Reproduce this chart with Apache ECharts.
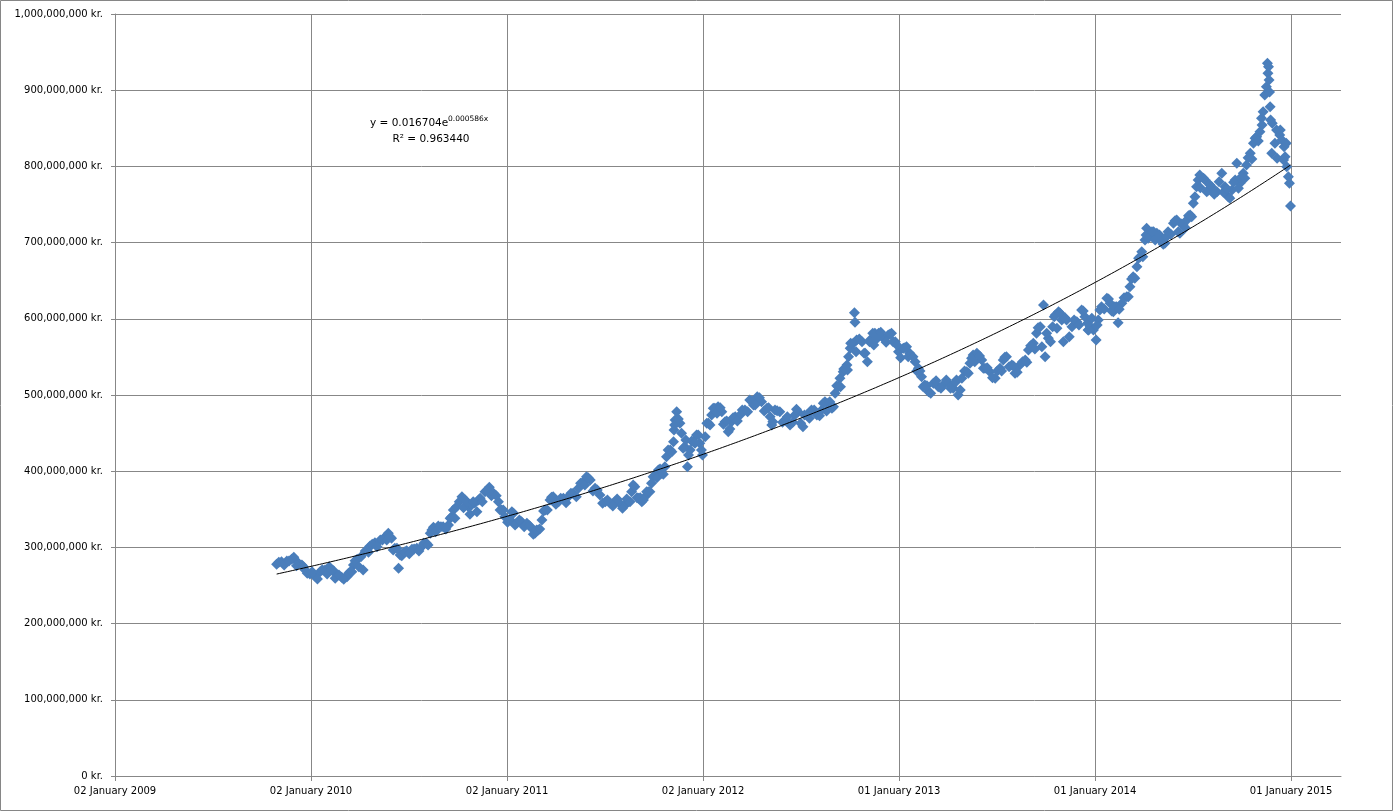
<!DOCTYPE html>
<html><head><meta charset="utf-8">
<script src="https://cdn.jsdelivr.net/npm/echarts@6/dist/echarts.min.js"></script>
<style>html,body{margin:0;padding:0;background:#fff}#c{width:1393px;height:811px}</style>
</head><body><div id="c"></div>
<script>
// Excel date serials (days since 1899-12-30) - first reading pass (band centre)
const dates = [
40116,40125,40135,40144,40148,40156,40163,40169,40178,40187,40197,40206,40214,40222,40228,40237,40247,40253,40259,40266,40273,40277,40284,40290,40299,40309,40318,40324,40330,40336,40343,40346,40352,40358,40368,40377,40386,40395,40402,40408,40417,40426,40436,40442,40445,40451,40461,40467,40473,40479,40485,40492,
40495,40504,40512,40520,40529,40535,40541,40551,40557,40563,40572,40582,40591,40597,40603,40610,40616,40625,40631,40641,40650,40659,40668,40678,40687,40693,40700,40709,40718,40728,40737,40746,40755,40765,40771,40777,40783,40790,40796,40802,40808,40814,40821,40827,40833,40839,40842,40849,40855,40856,40858,40861,
40867,40870,40876,40881,40886,40892,40898,40904,40909,40914,40920,40926,40932,40938,40945,40951,40957,40963,40970,40979,40988,40997,41004,41011,41019,41029,41035,41038,41044,41053,41063,41072,41081,41087,41096,41103,41112,41122,41131,41137,41143,41150,41156,41162,41165,41171,41178,41181,41184,41190,41192,41193,41196,41206,41212,41216,41221,41230,41236,
41246,41255,41261,41268,41274,41283,41289,41295,41305,41311,41317,41323,41330,41339,41348,41357,41367,41376,41382,41385,41392,41401,41407,41413,41420,41429,41435,41444,41454,41463,41469,41475,41485,41491,41500,41510,41516,41525,41531,41538,41541,41544,41547,41553,41561,41566,41572,41578,41581,41587,41597,41606,41615,41621,41627,
41631,41637,41642,41646,41652,41662,41668,41674,41680,41683,41690,41699,41705,41711,41718,41724,41727,41733,41736,41742,41749,41755,41764,41770,41776,41786,41792,41798,41804,41811,41817,41823,41826,41832,41835,41845,41851,41857,41867,41876,41882,41888,41895,41901,41904,41910,41916,41922,41929,41935,41941,41947,41950,41953,41956,41959,41961,41962,41963,41964,41965,41966,41967,41969,41970,41975,41978,41984,41988,41992,41994,41997,42000,42002,42004
];
// values in millions of kr. - first reading pass
const values = [
277.8,281.2,282.1,284.4,287.0,279.9,276.9,270.3,265.1,262.5,268.1,270.3,274.7,269.4,263.8,260.8,261.5,268.1,276.9,284.4,287.8,270.3,296.6,301.8,306.2,309.7,314.0,318.5,311.9,298.8,272.6,290.0,293.0,295.7,297.5,298.8,300.9,305.4,318.5,326.4,328.1,327.2,329.4,340.3,349.1,353.4,366.5,362.2,353.4,355.6,358.3,362.2,
364.4,373.1,378.9,371.0,360.0,349.1,340.3,335.9,344.7,331.6,333.7,331.6,325.1,318.5,322.8,335.9,349.1,362.2,366.5,360.0,364.4,366.5,371.0,377.5,386.2,392.8,388.4,377.5,368.8,360.0,357.9,360.0,357.9,355.6,360.0,373.1,379.7,364.4,360.0,366.5,373.1,384.1,395.0,401.6,397.2,405.9,419.0,427.8,438.7,454.1,467.2,478.1,
462.8,449.7,432.1,405.9,427.8,438.7,447.5,436.6,421.2,445.3,462.8,473.7,482.5,484.6,478.1,464.9,451.8,464.9,471.5,473.7,480.3,493.4,486.9,497.8,491.2,482.5,471.5,460.6,480.3,478.1,467.2,460.6,473.7,478.1,458.4,473.7,480.3,473.7,480.3,491.2,489.1,482.5,502.2,510.9,521.9,530.6,539.4,550.2,561.3,567.8,608.0,595.4,572.2,569.9,554.7,543.7,572.2,580.9,576.5,
574.4,578.7,580.9,569.9,556.8,561.3,563.4,554.7,543.7,535.0,524.0,513.1,504.3,515.3,510.9,513.1,515.3,508.8,519.7,500.0,521.9,530.6,541.6,552.5,554.7,545.9,535.0,530.6,521.9,535.0,545.9,550.2,539.4,528.5,539.4,545.9,559.0,567.8,580.9,589.6,563.4,618.1,550.2,574.4,589.6,605.0,609.3,598.4,569.9,598.4,589.6,596.2,611.5,602.7,585.3,
589.6,585.3,572.2,598.4,615.9,626.9,620.3,609.3,615.9,594.9,620.3,629.0,642.1,655.2,668.4,681.5,688.0,703.4,718.7,710.0,714.3,712.2,701.2,699.1,714.3,725.3,729.6,712.2,723.1,729.6,736.2,751.6,760.2,782.1,788.7,782.1,769.0,773.3,766.8,790.9,773.3,760.2,769.0,782.1,804.0,777.8,790.9,801.8,817.2,830.3,839.0,845.5,863.1,871.8,893.7,904.6,935.3,922.2,930.8,913.4,897.6,878.3,860.9,817.2,856.5,830.3,847.7,841.2,834.6,825.8,812.7,799.6,786.5,777.8,748.0
];
// second reading pass (upper and lower edges of the dense band)
const dates2 = [
40120,40130,40139,40153,40166,40173,40182,40192,40201,40210,40218,40225,40232,40241,40250,40256,40262,40269,40281,40287,40294,40303,40313,40321,40327,40333,40340,40349,40355,40363,40372,40381,40390,40398,40405,40412,40422,40431,40439,40448,40456,40464,40470,40476,40482,40489,
40499,40508,40516,40525,40532,40538,40546,40554,40560,40568,40577,40587,40594,40600,40606,40613,40620,40628,40636,40645,40655,40664,40674,40682,40690,40696,40705,40713,40723,40732,40742,40750,40760,40768,40774,40780,40787,40793,40799,40805,40811,40817,40824,40830,40836,40845,40852,40857,
40864,40873,40878,40883,40889,40895,40901,40907,40917,40923,40929,40936,40942,40948,40954,40960,40966,40974,40983,40993,41001,41007,41015,41024,41032,41040,41048,41058,41067,41077,41084,41092,41099,41108,41117,41127,41134,41140,41146,41153,41159,41166,41172,41179,41185,41195,41201,41210,41220,41228,41237,
41226,41233,41241,41251,41258,41264,41271,41278,41286,41292,41301,41308,41314,41320,41327,41334,41344,41353,41363,41371,41381,41389,41397,41404,41410,41416,41425,41432,41439,41449,41458,41466,41472,41480,41488,41495,41505,41513,41520,41528,41534,41550,41557,41564,41569,41575,41584,41592,41601,41610,41618,41628,
41626,41634,41644,41649,41657,41665,41671,41677,41685,41694,41702,41708,41714,41721,41729,41735,41739,41746,41752,41760,41767,41773,41781,41789,41795,41801,41808,41814,41820,41829,41836,41842,41848,41854,41862,41871,41879,41885,41891,41898,41907,41913,41919,41925,41932,41938,41944,41951,41979,41985,41991,41996
];
const values2 = [
280.4,276.9,282.1,276.0,274.7,266.0,268.1,258.5,270.7,265.1,270.7,259.4,263.8,258.1,266.0,268.1,282.5,274.7,295.3,293.6,304.1,300.9,309.7,309.7,314.0,296.6,298.8,289.1,294.3,291.7,297.9,295.3,305.4,303.1,322.8,320.6,327.2,324.1,338.2,338.2,360.0,352.1,360.0,343.4,360.0,346.8,
360.0,375.3,367.8,367.8,349.1,349.1,332.9,346.8,329.4,335.9,327.2,328.5,317.2,322.8,324.1,347.8,349.1,365.7,356.6,364.4,358.6,371.0,366.5,384.1,381.9,391.5,374.0,375.3,357.9,362.2,354.3,363.5,351.3,363.5,360.0,381.9,365.2,365.2,362.2,373.1,373.1,392.8,391.5,402.9,395.9,427.8,425.6,460.6,
468.5,430.0,440.9,421.2,439.6,436.6,447.5,427.8,462.8,460.6,482.5,476.0,483.3,461.5,465.9,455.4,470.2,465.9,480.3,478.1,492.1,486.9,496.4,479.0,483.3,464.9,479.4,464.2,471.5,464.2,481.2,462.8,473.7,469.4,480.3,472.8,489.1,479.0,491.2,484.6,512.2,510.9,534.1,532.8,567.8,556.8,573.5,554.7,569.9,565.6,580.9,
580.9,573.5,582.3,569.1,579.6,569.9,565.6,548.9,562.1,550.2,550.2,531.5,531.5,510.9,512.2,502.2,518.8,508.8,519.7,508.8,517.4,506.5,531.5,528.5,548.1,543.7,551.2,535.0,535.8,522.7,531.5,531.5,549.5,537.1,538.0,529.8,543.7,542.9,564.7,560.4,588.3,580.9,569.9,602.7,587.5,607.2,601.4,576.5,598.4,591.8,610.2,585.3,
594.1,600.6,591.8,611.5,612.8,626.0,610.2,615.9,612.4,627.7,629.0,652.2,653.1,679.4,681.5,710.0,705.6,714.3,703.4,710.0,697.7,707.7,710.9,728.7,714.3,724.4,719.5,735.3,734.0,773.3,772.0,784.4,766.8,775.6,763.4,779.9,766.0,770.3,758.1,779.1,771.2,786.5,784.4,811.4,809.7,836.9,833.3,854.3,810.6,847.7,808.4,830.3
];
const axisStartSerial = 39815;      // 02 January 2009
const axisEndSerial = 42098;
const xTickStep = 365;
const yMaxMillions = 1000;
const yTickStepMillions = 100;
// exponential trendline y = a*e^(b*x), coefficients matched to the drawn curve
const trendA = 0.016102;
const trendB = 0.0005864;
const trendLabel = 'y = 0.016704e';
const trendExpLabel = '0.000586x';
const r2Label = 'R\u00B2 = 0.963440';

const MONTHS = ['January','February','March','April','May','June','July','August','September','October','November','December'];
function serialToLabel(s){
  const d = new Date(Date.UTC(1899,11,30) + Math.round(s)*86400000);
  const dd = String(d.getUTCDate()).padStart(2,'0');
  return dd + ' ' + MONTHS[d.getUTCMonth()] + ' ' + d.getUTCFullYear();
}
function fmtKr(v){
  return String(Math.round(v)).replace(/\B(?=(\d{3})+(?!\d))/g, ',') + ' kr.';
}

const allDates = dates.concat(dates2), allValues = values.concat(values2);
const points = allDates.map((s,i)=>[s - axisStartSerial, allValues[i]*1e6]);
const firstSerial = Math.min.apply(null, allDates), lastSerial = Math.max.apply(null, allDates);
const trend = [];
for (let s = firstSerial; s < lastSerial; s += 5) trend.push([s - axisStartSerial, trendA*Math.exp(trendB*s)]);
trend.push([lastSerial - axisStartSerial, trendA*Math.exp(trendB*lastSerial)]);

const gridColor = '#878787';
const chart = echarts.init(document.getElementById('c'), null, {renderer:'canvas'});
chart.setOption({
  animation:false,
  backgroundColor:'#fff',
  grid:{left:115, right:52, top:14, bottom:35, containLabel:false},
  xAxis:{
    type:'value', min:0, max:axisEndSerial-axisStartSerial, interval:xTickStep,
    axisLine:{show:true, lineStyle:{color:gridColor, width:1}},
    axisTick:{show:true, length:5, lineStyle:{color:gridColor}},
    splitLine:{show:true, showMaxLine:false, lineStyle:{color:gridColor, width:1}},
    axisLabel:{margin:10, showMaxLabel:false, color:'#000', fontFamily:'DejaVu Sans', fontSize:10,
      formatter:v=>serialToLabel(v+axisStartSerial)}
  },
  yAxis:{
    type:'value', min:0, max:yMaxMillions*1e6, interval:yTickStepMillions*1e6,
    axisLine:{show:true, lineStyle:{color:gridColor, width:1}},
    axisTick:{show:true, length:4, lineStyle:{color:gridColor}},
    splitLine:{show:true, lineStyle:{color:gridColor, width:1}},
    axisLabel:{margin:12, color:'#000', fontFamily:'DejaVu Sans', fontSize:10, formatter:fmtKr}
  },
  series:[
    {type:'scatter', data:points, symbol:'diamond', symbolSize:[11,11],
     itemStyle:{color:'#4A7EBB', opacity:1}, z:2},
    {type:'line', data:trend, showSymbol:false, smooth:false,
     lineStyle:{color:'#000', width:1}, z:3}
  ],
  graphic:[
    {type:'rect', shape:{x:0.5,y:0.5,width:1392,height:810}, style:{fill:'none', stroke:'#868686', lineWidth:1}, silent:true},
    {type:'text', x:370, y:123.5, style:{text:trendLabel, font:'10.5px "DejaVu Sans"', fill:'#000', textAlign:'left', textVerticalAlign:'middle'}},
    {type:'text', x:448, y:119.5, style:{text:trendExpLabel, font:'7.5px "DejaVu Sans"', fill:'#000', textAlign:'left', textVerticalAlign:'middle'}},
    {type:'text', x:431, y:139.5, style:{text:r2Label, font:'10.5px "DejaVu Sans"', fill:'#000', textAlign:'center', textVerticalAlign:'middle'}}
  ]
});
</script></body></html>
